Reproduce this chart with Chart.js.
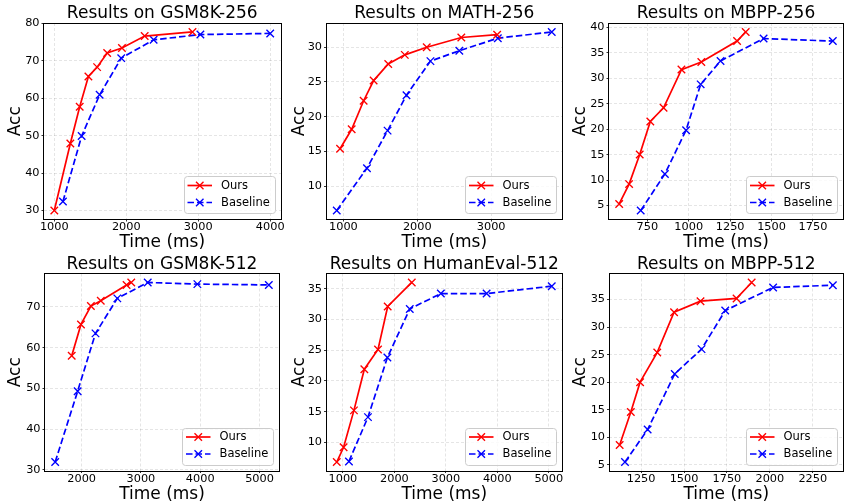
<!DOCTYPE html>
<html>
<head>
<meta charset="utf-8">
<script src="https://cdn.jsdelivr.net/npm/chart.js@4.4.0/dist/chart.umd.min.js"></script>
<style>
  html, body { margin: 0; padding: 0; background: #fff; overflow: hidden; width: 844px; height: 504px; }
  #fig { position: relative; width: 844px; height: 504px; }
  #fig canvas { position: absolute; }
</style>
</head>
<body>
<div id="fig"></div>
<script>
// ---- GSM8K-256 ----
const gsm256OursTime = [1000, 1223, 1353, 1474, 1595, 1735, 1940, 2256, 2920];
const gsm256OursAcc  = [30.0, 47.9, 57.7, 65.8, 68.3, 72.1, 73.4, 76.6, 77.7];
const gsm256BaseTime = [1120, 1380, 1630, 1930, 2380, 3030, 4000];
const gsm256BaseAcc  = [32.4, 49.9, 60.9, 70.7, 75.6, 77.0, 77.3];
const gsm256TimeTicks = [1000, 2000, 3000, 4000];
const gsm256AccTicks  = [30, 40, 50, 60, 70, 80];

// ---- MATH-256 ----
const math256OursTime = [955, 1112, 1274, 1409, 1607, 1831, 2128, 2596, 3081];
const math256OursAcc  = [15.4, 18.2, 22.3, 25.2, 27.6, 28.9, 30.0, 31.4, 31.8];
const math256BaseTime = [910, 1319, 1598, 1854, 2178, 2569, 3090, 3820];
const math256BaseAcc  = [6.5, 12.6, 18.0, 23.1, 28.0, 29.5, 31.3, 32.2];
const math256TimeTicks = [1000, 2000, 3000];
const math256AccTicks  = [10, 15, 20, 25, 30];

// ---- MBPP-256 ----
const mbpp256OursTime = [580, 640, 704, 768, 848, 956, 1076, 1292, 1344];
const mbpp256OursAcc  = [5.3, 9.2, 15.0, 21.5, 24.2, 31.7, 33.2, 37.3, 39.1];
const mbpp256BaseTime = [710, 856, 984, 1072, 1192, 1452, 1870];
const mbpp256BaseAcc  = [4.0, 11.2, 19.8, 28.8, 33.4, 37.8, 37.3];
const mbpp256TimeTicks = [750, 1000, 1250, 1500, 1750];
const mbpp256AccTicks  = [5, 10, 15, 20, 25, 30, 35, 40];

// ---- GSM8K-512 ----
const gsm512OursTime = [1833, 1989, 2156, 2323, 2758, 2837];
const gsm512OursAcc  = [58.0, 65.7, 70.2, 71.5, 75.4, 76.0];
const gsm512BaseTime = [1554, 1933, 2234, 2602, 3115, 3952, 5157];
const gsm512BaseAcc  = [31.9, 49.3, 63.5, 72.1, 76.0, 75.6, 75.4];
const gsm512TimeTicks = [2000, 3000, 4000, 5000];
const gsm512AccTicks  = [30, 40, 50, 60, 70];

// ---- HumanEval-512 ----
const he512OursTime = [880, 1013, 1214, 1416, 1682, 1870, 2338];
const he512OursAcc  = [6.8, 9.2, 15.2, 21.9, 25.1, 32.1, 36.0];
const he512BaseTime = [1117, 1487, 1864, 2299, 2903, 3792, 5058];
const he512BaseAcc  = [6.9, 14.1, 23.8, 31.7, 34.2, 34.2, 35.4];
const he512TimeTicks = [1000, 2000, 3000, 4000, 5000];
const he512AccTicks  = [10, 15, 20, 25, 30, 35];

// ---- MBPP-512 ----
const mbpp512OursTime = [1125, 1190, 1244, 1344, 1442, 1596, 1806, 1894];
const mbpp512OursAcc  = [8.6, 14.6, 20.0, 25.4, 32.7, 34.7, 35.2, 38.1];
const mbpp512BaseTime = [1156, 1288, 1446, 1602, 1740, 2019, 2367];
const mbpp512BaseAcc  = [5.5, 11.4, 21.5, 26.0, 33.0, 37.2, 37.6];
const mbpp512TimeTicks = [1250, 1500, 1750, 2000, 2250];
const mbpp512AccTicks  = [5, 10, 15, 20, 25, 30, 35];

const seriesNames = ['Ours', 'Baseline'];
const seriesColors = ['#ff0000', '#0000ff'];

// ---- page geometry: where each panel's plot area sits ----
const FONT = "'DejaVu Sans', sans-serif";
const colStart = [0, 285, 565];
const rowTop = [0, 250];
const rowBottom = [251, 504];
const accLabelX = [16, 299.5, 580.5];   // centre of the rotated "Acc" label
const titleMidY = [13.4, 264.8];        // centre of the panel titles
const timeLabelY = [242.4, 494.8];      // centre of the "Time (ms)" labels

const panels = [
  { title: 'Results on GSM8K-256', col: 0, row: 0, rect: [43.5, 23, 281, 219.5],
    ours: [gsm256OursTime, gsm256OursAcc], base: [gsm256BaseTime, gsm256BaseAcc],
    xTicks: gsm256TimeTicks, yTicks: gsm256AccTicks },
  { title: 'Results on MATH-256', col: 1, row: 0, rect: [326, 23, 562.5, 219.5],
    ours: [math256OursTime, math256OursAcc], base: [math256BaseTime, math256BaseAcc],
    xTicks: math256TimeTicks, yTicks: math256AccTicks },
  { title: 'Results on MBPP-256', col: 2, row: 0, rect: [608.5, 23, 843.5, 219.5],
    ours: [mbpp256OursTime, mbpp256OursAcc], base: [mbpp256BaseTime, mbpp256BaseAcc],
    xTicks: mbpp256TimeTicks, yTicks: mbpp256AccTicks },
  { title: 'Results on GSM8K-512', col: 0, row: 1, rect: [44.5, 273.5, 279.5, 471],
    ours: [gsm512OursTime, gsm512OursAcc], base: [gsm512BaseTime, gsm512BaseAcc],
    xTicks: gsm512TimeTicks, yTicks: gsm512AccTicks },
  { title: 'Results on HumanEval-512', col: 1, row: 1, rect: [326, 273.5, 562.5, 471],
    ours: [he512OursTime, he512OursAcc], base: [he512BaseTime, he512BaseAcc],
    xTicks: he512TimeTicks, yTicks: he512AccTicks },
  { title: 'Results on MBPP-512', col: 2, row: 1, rect: [609, 273.5, 843.5, 471],
    ours: [mbpp512OursTime, mbpp512OursAcc], base: [mbpp512BaseTime, mbpp512BaseAcc],
    xTicks: mbpp512TimeTicks, yTicks: mbpp512AccTicks },
];

// autoscale with a 5% margin on each side
function paddedRange(a, b) {
  const lo = Math.min(...a, ...b), hi = Math.max(...a, ...b);
  const m = (hi - lo) * 0.05;
  return [lo - m, hi + m];
}

const crisp = v => Math.floor(v) + 0.5;

// black box around the plot area
const framePlugin = {
  id: 'frame',
  afterDatasetsDraw(chart) {
    const a = chart.chartArea, ctx = chart.ctx;
    ctx.save();
    ctx.strokeStyle = '#000';
    ctx.lineWidth = 1;
    const x0 = crisp(a.left), y0 = crisp(a.top), x1 = crisp(a.right), y1 = crisp(a.bottom);
    ctx.strokeRect(x0, y0, x1 - x0, y1 - y0);
    ctx.restore();
  }
};

function drawCross(ctx, x, y, half) {
  ctx.beginPath();
  ctx.moveTo(x - half, y - half); ctx.lineTo(x + half, y + half);
  ctx.moveTo(x + half, y - half); ctx.lineTo(x - half, y + half);
  ctx.stroke();
}

// legend box in the lower-right corner of the plot area
const cornerLegendPlugin = {
  id: 'cornerLegend',
  afterDraw(chart) {
    const a = chart.chartArea, ctx = chart.ctx;
    const w = 91, h = 37, r = 3;
    const right = a.right - 6, bottom = a.bottom - 6;
    const left = right - w, top = bottom - h;
    ctx.save();
    ctx.beginPath();
    ctx.roundRect(crisp(left), crisp(top), Math.round(w), Math.round(h), r);
    ctx.fillStyle = 'rgba(255,255,255,0.8)';
    ctx.fill();
    ctx.strokeStyle = '#cccccc';
    ctx.lineWidth = 1;
    ctx.stroke();
    chart.data.datasets.forEach((ds, i) => {
      const cy = top + 9 + i * 17;
      const hx0 = left + 3.5, hx1 = left + 28;
      ctx.strokeStyle = ds.borderColor;
      ctx.lineWidth = ds.borderWidth;
      ctx.setLineDash(ds.borderDash || []);
      ctx.beginPath();
      ctx.moveTo(hx0, cy); ctx.lineTo(hx1, cy);
      ctx.stroke();
      ctx.setLineDash([]);
      ctx.lineWidth = ds.pointBorderWidth;
      drawCross(ctx, (hx0 + hx1) / 2, cy, ds.pointRadius * Math.SQRT1_2);
      ctx.fillStyle = '#000';
      ctx.font = '11.5px ' + FONT;
      ctx.textAlign = 'left';
      ctx.textBaseline = 'middle';
      ctx.fillText(ds.label, left + 37, cy + 0.5);
    });
    ctx.restore();
  }
};

const fig = document.getElementById('fig');

panels.forEach(p => {
  const [L, T, R, B] = p.rect;
  const cx = colStart[p.col], cy = rowTop[p.row];
  const W = Math.ceil(R - cx + 20);
  const H = rowBottom[p.row] - cy;
  const canvas = document.createElement('canvas');
  canvas.width = W; canvas.height = H;
  canvas.style.left = cx + 'px'; canvas.style.top = cy + 'px';
  canvas.style.width = W + 'px'; canvas.style.height = H + 'px';
  fig.appendChild(canvas);

  const [xMin, xMax] = paddedRange(p.ours[0], p.base[0]);
  const [yMin, yMax] = paddedRange(p.ours[1], p.base[1]);
  const titleTop = titleMidY[p.row] - cy - 8.5;

  const makeSet = (src, i) => ({
    label: seriesNames[i],
    data: src[0].map((t, k) => ({ x: t, y: src[1][k] })),
    borderColor: seriesColors[i],
    backgroundColor: seriesColors[i],
    borderWidth: 1.7,
    borderDash: i === 1 ? [6.5, 3] : [],
    pointStyle: 'crossRot',
    pointRadius: 5.3,
    pointBorderWidth: 1.35,
    pointBorderColor: seriesColors[i],
    pointBackgroundColor: seriesColors[i],
    tension: 0,
    fill: false,
  });

  const tickFont = { family: FONT, size: 11.3, lineHeight: 1 };
  const gridOpts = {
    color: 'rgba(0,0,0,0.13)',
    lineWidth: 0.8,
    drawTicks: true,
    tickLength: 2,
    tickColor: '#000',
    tickWidth: 0.8,
    tickBorderDash: [],
  };

  new Chart(canvas, {
    type: 'line',
    data: { datasets: [makeSet(p.ours, 0), makeSet(p.base, 1)] },
    options: {
      responsive: false,
      devicePixelRatio: 1,
      animation: false,
      layout: { padding: { left: 0, top: 0, bottom: 0, right: W - (R - cx) } },
      plugins: {
        legend: { display: false },
        tooltip: { enabled: false },
        title: {
          display: true,
          text: p.title,
          fullSize: false,
          color: '#000',
          font: { family: FONT, size: 17, weight: 'normal', lineHeight: 1 },
          padding: { top: titleTop, bottom: (T - cy) - titleTop - 17 },
        },
      },
      scales: {
        x: {
          type: 'linear',
          min: xMin, max: xMax,
          afterBuildTicks: s => { s.ticks = p.xTicks.map(v => ({ value: v })); },
          afterFit: s => { s.height = H - (B - cy); },
          ticks: { font: tickFont, color: '#000', padding: 0, autoSkip: false, maxRotation: 0, minRotation: 0,
                   callback: v => String(v) },
          grid: gridOpts,
          border: { display: false, dash: [3, 2] },
          title: { display: true, text: 'Time (ms)', color: '#000',
                   font: { family: FONT, size: 17, lineHeight: 1 },
                   padding: { top: 0, bottom: H - 8.5 - (timeLabelY[p.row] - cy) } },
        },
        y: {
          type: 'linear',
          min: yMin, max: yMax,
          afterBuildTicks: s => { s.ticks = p.yTicks.map(v => ({ value: v })); },
          afterFit: s => { s.width = L - cx; },
          ticks: { font: tickFont, color: '#000', padding: 2, autoSkip: false,
                   callback: v => String(v) },
          grid: gridOpts,
          border: { display: false, dash: [3, 2] },
          title: { display: true, text: 'Acc', color: '#000',
                   font: { family: FONT, size: 17, lineHeight: 1 },
                   padding: { top: accLabelX[p.col] - cx - 8.5, bottom: 0 } },
        },
      },
    },
    plugins: [framePlugin, cornerLegendPlugin],
  });
});
</script>
</body>
</html>
